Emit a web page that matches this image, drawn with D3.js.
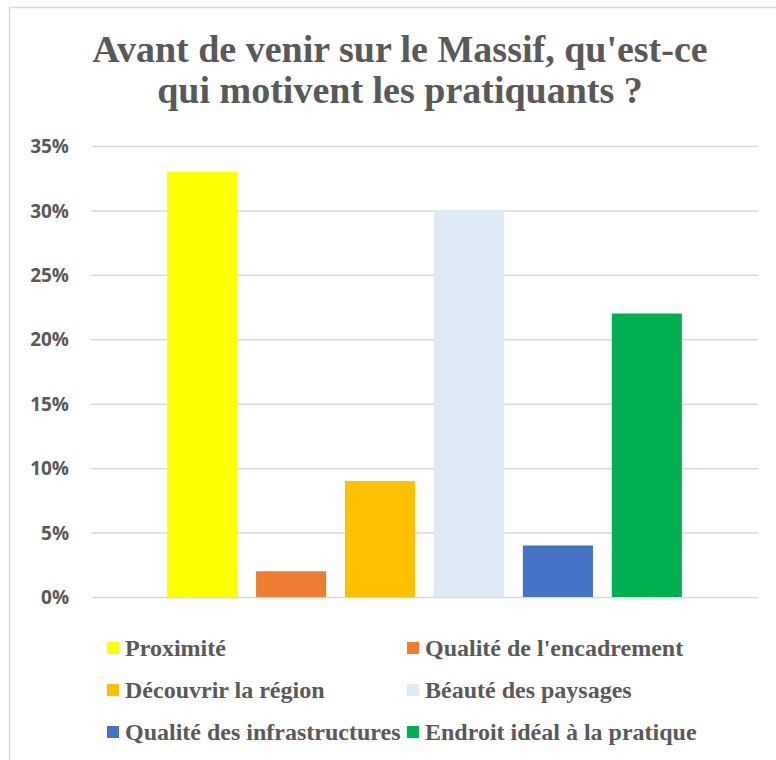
<!DOCTYPE html>
<html lang="fr">
<head>
    <meta charset="UTF-8">
    <title>Motivations des pratiquants</title>
    <script src="https://d3js.org/d3.v7.min.js"></script>
    <style>
        body { margin: 0; background: #fff; }
        svg { display: block; }
        .title { font-family: "Liberation Serif", "Times New Roman", serif; font-weight: bold; fill: #595959; }
        .tick text { font-family: "Open Sans", "Liberation Sans", sans-serif; font-weight: bold; fill: #595959; }
        .legend text { font-family: "Liberation Serif", "Times New Roman", serif; font-weight: bold; fill: #595959; }
    </style>
</head>
<body>
<script>
    // Data
    const categories = ["Proximité", "Qualité de l'encadrement", "Découvrir la région",
        "Béauté des paysages", "Qualité des infrastructures", "Endroit idéal à la pratique"];
    const values = [0.33, 0.02, 0.09, 0.30, 0.04, 0.22];
    const colors = ["#FFFF00", "#ED7D31", "#FFC000", "#DEEBF7", "#4472C4", "#00B050"];
    const yTicks = [0, 0.05, 0.10, 0.15, 0.20, 0.25, 0.30, 0.35];
    const titleLines = ["Avant de venir sur le Massif, qu'est-ce", "qui motivent les pratiquants ?"];

    const width = 776, height = 760;
    const plot = { left: 91, right: 758, top: 146, bottom: 597 };

    const svg = d3.select("body").append("svg")
        .attr("width", width)
        .attr("height", height);

    // chart frame (runs past the right and bottom edges)
    svg.append("rect")
        .attr("x", 9.5).attr("y", 7.5)
        .attr("width", 800).attr("height", 800)
        .attr("fill", "#fff")
        .attr("stroke", "#d9d9d9")
        .attr("stroke-width", 1.5);

    // title
    svg.append("text")
        .attr("class", "title")
        .attr("text-anchor", "middle")
        .attr("font-size", 38)
        .selectAll("tspan")
        .data(titleLines)
        .enter()
        .append("tspan")
        .attr("x", 400)
        .attr("y", (d, i) => 62 + i * 41)
        .text(d => d);

    const x = d3.scaleBand()
        .domain(categories)
        .range([plot.left, plot.right])
        .paddingInner(0.212)
        .paddingOuter(0.856);

    const y = d3.scaleLinear()
        .domain([0, 0.35])
        .range([plot.bottom, plot.top]);

    // gridlines + labels
    const yAxis = d3.axisLeft(y)
        .tickValues(yTicks)
        .tickFormat(d3.format(".0%"))
        .tickSize(-(plot.right - plot.left))
        .tickPadding(22);

    const gy = svg.append("g")
        .attr("transform", `translate(${plot.left},0)`)
        .call(yAxis);
    gy.select(".domain").remove();
    gy.selectAll(".tick line")
        .attr("stroke", "#d9d9d9")
        .attr("stroke-width", 1.5);
    gy.selectAll(".tick text")
        .attr("font-size", 19)
        .attr("dy", "0.35em");

    // bars
    svg.append("g")
        .selectAll("rect")
        .data(values)
        .enter()
        .append("rect")
        .attr("x", (d, i) => x(categories[i]))
        .attr("y", d => y(d))
        .attr("width", x.bandwidth())
        .attr("height", d => y(0) - y(d))
        .attr("fill", (d, i) => colors[i]);

    // legend, two columns
    const legend = svg.append("g")
        .attr("class", "legend")
        .selectAll("g")
        .data(categories)
        .enter()
        .append("g")
        .attr("transform", (d, i) => `translate(${i % 2 === 0 ? 107 : 407},${648 + Math.floor(i / 2) * 42})`);

    legend.append("rect")
        .attr("x", 0).attr("y", -6)
        .attr("width", 12).attr("height", 12)
        .attr("fill", (d, i) => colors[i]);

    legend.append("text")
        .attr("x", 18)
        .attr("dy", "0.35em")
        .attr("font-size", 24)
        .text(d => d);
</script>
</body>
</html>
